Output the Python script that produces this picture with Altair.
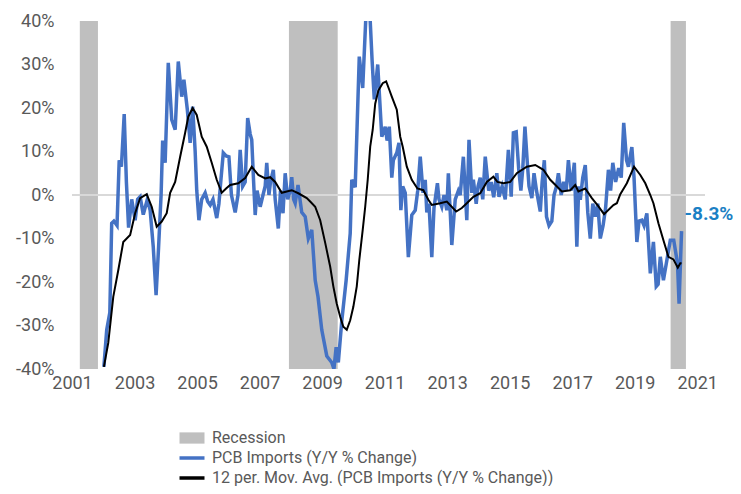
import altair as alt
import pandas as pd

# ---- data ----
blue_t = [2002.02, 2002.11, 2002.21, 2002.27, 2002.34, 2002.44, 2002.51, 2002.58, 2002.67, 2002.74,
          2002.81, 2002.91, 2003.02, 2003.10, 2003.18, 2003.28, 2003.41, 2003.50, 2003.60, 2003.69,
          2003.77, 2003.85, 2003.90, 2003.98, 2004.08, 2004.19, 2004.30, 2004.40, 2004.51, 2004.58,
          2004.69, 2004.78, 2004.86, 2004.94, 2004.99, 2005.06, 2005.15, 2005.26, 2005.34, 2005.42,
          2005.51, 2005.63, 2005.70, 2005.77, 2005.84, 2005.93, 2006.02, 2006.10, 2006.22, 2006.31,
          2006.38, 2006.46, 2006.54, 2006.62, 2006.70, 2006.75, 2006.81, 2006.86, 2006.92, 2007.02,
          2007.11, 2007.18, 2007.23, 2007.30, 2007.35, 2007.44, 2007.50, 2007.60, 2007.67, 2007.75,
          2007.82, 2007.90, 2007.98, 2008.03, 2008.09, 2008.14, 2008.23, 2008.35, 2008.46, 2008.56,
          2008.67, 2008.78, 2008.87, 2008.99, 2009.15, 2009.31, 2009.38, 2009.45, 2009.52, 2009.63,
          2009.77, 2009.90, 2009.95, 2010.06, 2010.19, 2010.30, 2010.42, 2010.52, 2010.60, 2010.67,
          2010.78, 2010.91, 2011.02, 2011.08, 2011.15, 2011.23, 2011.28, 2011.39, 2011.46, 2011.52,
          2011.58, 2011.66, 2011.76, 2011.87, 2011.98, 2012.06, 2012.14, 2012.23, 2012.30, 2012.35,
          2012.42, 2012.51, 2012.58, 2012.69, 2012.74, 2012.83, 2012.90, 2012.99, 2013.04, 2013.15,
          2013.26, 2013.36, 2013.42, 2013.52, 2013.63, 2013.70, 2013.79, 2013.84, 2013.93, 2013.99,
          2014.06, 2014.14, 2014.22, 2014.33, 2014.41, 2014.49, 2014.59, 2014.66, 2014.76, 2014.86,
          2014.96, 2015.05, 2015.12, 2015.21, 2015.29, 2015.36, 2015.42, 2015.49, 2015.56, 2015.62,
          2015.71, 2015.78, 2015.86, 2015.98, 2016.04, 2016.11, 2016.18, 2016.26, 2016.35, 2016.42,
          2016.50, 2016.56, 2016.65, 2016.73, 2016.81, 2016.88, 2016.97, 2017.07, 2017.15, 2017.21,
          2017.26, 2017.34, 2017.42, 2017.50, 2017.58, 2017.66, 2017.74, 2017.82, 2017.90, 2017.99,
          2018.07, 2018.16, 2018.23, 2018.30, 2018.39, 2018.49, 2018.57, 2018.65, 2018.74, 2018.80,
          2018.86, 2018.91, 2018.98, 2019.07, 2019.14, 2019.23, 2019.30, 2019.39, 2019.50, 2019.60,
          2019.69, 2019.75, 2019.82, 2019.92, 2020.03, 2020.14, 2020.25, 2020.37, 2020.42, 2020.50]
blue_v = [-39.5, -31, -27, -6.5, -6, -7, 8, 6.5, 18.6, 3,
          -7.5, -1, -5.8, -1, -0.4, -4.5, -1, -3.5, -12, -23,
          -12, 0, 12.5, 7.4, 30.4, 17.3, 15, 30.7, 22.6, 26.5,
          19.6, 12, 20.3, 10, 1.1, -5.8, -1, 0.5, -1.5, -2.3,
          -1, -5.3, -2, 4, 9.7, 9, 8.8, 0, -4, 0,
          10.4, 2, 3, 17.7, 14, 12.7, 3, -4.6, 1, -2.7,
          0, 2, 7.4, 0, 3, 5.8, -1, -7.7, 1, -4.2,
          5, -1, 1, 4.1, -1, -1.9, 2.3, -4, -5, -10,
          -8, -19.6, -23.4, -31, -37, -38.5, -40, -35, -38.5, -29,
          -19.6, -8.8, 3.5, 1.8, 31.8, 24.6, 44, 43, 31, 22,
          30, 13.4, 15.7, 12.5, 15.7, 4, 8, 9.7, 12, -3.5,
          2, 0.5, -14.3, -4.6, -3.5, 1, 8.8, 0.5, 3.5, -4,
          -2, -14.3, -3, 2.7, -1, -2.7, 0, -3.5, 5, -11.5,
          -1, 1, 0, 8.8, -5.8, 12.7, 0.5, 3.5, -2, 2,
          4, -1, 8.8, 1, 3, -0.5, 5, -0.4, 2, -1,
          10.4, -0.4, 14.3, 14.5, 6, 1, 6, 15.7, 8, 2,
          -0.7, 5, 1, -3.8, 3, 8, -5, -7, -6, 0,
          2, 5, 0, 3, 1, 8, 1, 7.4, -11.9, 2,
          -1.1, 4, 6.9, -4, -10, -2, -5, -2, -10, -7,
          -3, 5.8, 1, 7.4, 3, 6.2, 4, 16.6, 8, 6.5,
          9, 11, 4, -10.8, -6, -5.8, -7, -4.2, -18, -10.8,
          -21, -20.5, -14.2, -19.6, -15, -10.4, -10.4, -15.7, -25, -8.3]

ma_t = [2002.02, 2002.16, 2002.32, 2002.48, 2002.64, 2002.86, 2003.02, 2003.18, 2003.39, 2003.55,
        2003.71, 2003.87, 2004.03, 2004.14, 2004.30, 2004.46, 2004.62, 2004.72, 2004.86, 2004.99,
        2005.15, 2005.31, 2005.47, 2005.63, 2005.79, 2005.93, 2006.06, 2006.32, 2006.54, 2006.75,
        2006.96, 2007.18, 2007.34, 2007.50, 2007.71, 2007.87, 2008.03, 2008.24, 2008.51, 2008.62,
        2008.78, 2008.94, 2009.10, 2009.26, 2009.36, 2009.47, 2009.58, 2009.68, 2009.79, 2009.90,
        2010.00, 2010.11, 2010.19, 2010.30, 2010.38, 2010.46, 2010.54, 2010.62, 2010.70, 2010.80,
        2010.94, 2011.05, 2011.15, 2011.23, 2011.39, 2011.50, 2011.58, 2011.71, 2011.87, 2012.05,
        2012.24, 2012.40, 2012.51, 2012.78, 2012.99, 2013.29, 2013.47, 2013.63, 2013.84, 2014.06,
        2014.27, 2014.48, 2014.61, 2014.80, 2015.02, 2015.23, 2015.55, 2015.82, 2016.08, 2016.30,
        2016.67, 2016.94, 2017.10, 2017.20, 2017.42, 2017.63, 2017.83, 2018.02, 2018.32, 2018.43,
        2018.54, 2018.75, 2018.98, 2019.18, 2019.34, 2019.50, 2019.60, 2019.76, 2019.92, 2020.08,
        2020.24, 2020.38, 2020.46, 2020.50]
ma_v = [-39.5, -34, -23.4, -17.3, -10.8, -9.2, -4.2, -0.7, 0.2, -2.7,
        -7.3, -6.1, -4.2, 0.5, 3, 8.8, 14.3, 18, 20, 18.4,
        13.4, 11.1, 7.4, 3.5, 0.5, 1.5, 2.3, 2.7, 3.9, 6.5,
        4.6, 3.8, 4.1, 3, 0.5, 0.8, 1.1, 0.4, -0.7, -1.5,
        -2.7, -5.8, -11, -16.5, -21, -25, -28, -30.3, -31, -28.8,
        -25.7, -21, -15, -8, -2.7, 3.5, 11.1, 15, 21, 24,
        25.7, 26.1, 24.2, 22.6, 19.6, 13.4, 11.1, 6.5, 3.5, 1.5,
        1.1, -1.1, -2.3, -1.9, -1.5, -3.8, -3, -1.9, -0.4, 0.4,
        3, 4.2, 3, 2.7, 3, 5, 6.5, 6.9, 5.8, 3.5,
        0.8, 1.1, 2.3, 0.8, 1.5, -0.7, -2.5, -4.4, -2.3, -1.9,
        0.2, 2.7, 6.5, 4.6, 2.7, 0, -1.9, -6.5, -10.4, -14.2,
        -14.8, -16.7, -15.7, -15.7]

rec_start = [2001.25, 2007.94, 2020.15]
rec_end = [2001.83, 2009.50, 2020.64]

y_ticks = [-40, -30, -20, -10, 0, 10, 20, 30, 40]
x_ticks = [2001, 2003, 2005, 2007, 2009, 2011, 2013, 2015, 2017, 2019, 2021]

BLUE_NAME = "PCB Imports (Y/Y % Change)"
MA_NAME = "12 per. Mov. Avg. (PCB Imports (Y/Y % Change))"
REC_NAME = "Recession"

blue_df = pd.DataFrame({"t": blue_t, "v": blue_v, "s": BLUE_NAME})
ma_df = pd.DataFrame({"t": ma_t, "v": ma_v, "s": MA_NAME})
rec_df = pd.DataFrame({"start": rec_start, "end": rec_end,
                       "lo": y_ticks[0], "hi": y_ticks[-1], "k": REC_NAME})
last_df = pd.DataFrame({"t": [blue_t[-1]], "v": [blue_v[-1]],
                        "label": [f"{blue_v[-1]:.1f}%"]})

xs = alt.Scale(domain=[2001, 2021.25], nice=False, zero=False)
ys = alt.Scale(domain=[-40, 40], nice=False, zero=False)
x_axis = alt.Axis(values=x_ticks, format="d", labelPadding=5, title=None,
                  labelFlush=False, labelOverlap=False)
y_axis = alt.Axis(values=y_ticks, labelExpr="datum.value + '%'", labelPadding=18, title=None)

stroke_scale = alt.Scale(domain=[BLUE_NAME, MA_NAME], range=["#4472C4", "#000000"])
line_legend = alt.Legend(orient="none", legendX=112, legendY=429, title=None,
                         symbolType="M-2,0H2", symbolSize=156.25, symbolStrokeWidth=3.5,
                         labelFont="Roboto", labelFontSize=16, labelColor="#595959",
                         labelOffset=12, labelLimit=600, rowPadding=4, padding=0)
rec_legend = alt.Legend(orient="none", legendX=112, legendY=409, title=None,
                        symbolType="M-2,-0.9H2V0.9H-2Z", symbolSize=156.25,
                        symbolStrokeWidth=0, symbolOpacity=1,
                        labelFont="Roboto", labelFontSize=16, labelColor="#595959",
                        labelOffset=12, labelLimit=600, padding=0)

rec = alt.Chart(rec_df).mark_rect(opacity=1).encode(
    x=alt.X("start:Q", scale=xs, axis=x_axis),
    x2="end:Q",
    y=alt.Y("lo:Q", scale=ys, axis=y_axis),
    y2="hi:Q",
    fill=alt.Fill("k:N", scale=alt.Scale(domain=[REC_NAME], range=["#BFBFBF"]), legend=rec_legend),
)

zero = alt.Chart(rec_df).mark_rule(color="#D9D9D9", strokeWidth=1.5).encode(
    y=alt.datum(0, scale=ys)
)

blue = alt.Chart(blue_df).mark_line(strokeWidth=3.5, clip=True).encode(
    x=alt.X("t:Q", scale=xs, axis=x_axis),
    y=alt.Y("v:Q", scale=ys, axis=y_axis),
    stroke=alt.Stroke("s:N", scale=stroke_scale, legend=line_legend),
)

ma = alt.Chart(ma_df).mark_line(strokeWidth=2, clip=True).encode(
    x=alt.X("t:Q", scale=xs, axis=x_axis),
    y=alt.Y("v:Q", scale=ys, axis=y_axis),
    stroke=alt.Stroke("s:N", scale=stroke_scale, legend=line_legend),
)

label = alt.Chart(last_df).mark_text(align="left", baseline="middle", dx=3, dy=-17,
                                     font="Roboto", fontSize=19, fontWeight="bold",
                                     color="#1A80C4").encode(
    x=alt.X("t:Q", scale=xs, axis=x_axis),
    y=alt.Y("v:Q", scale=ys, axis=y_axis),
    text="label:N",
)

chart = alt.layer(rec, zero, blue, ma, label).properties(
    width=633, height=348,
    autosize=alt.AutoSizeParams(type="none"),
    padding={"left": 64, "top": 13, "right": 28, "bottom": 117},
).configure_view(stroke=None).configure_axis(
    labelFont="Roboto", labelFontSize=18, labelColor="#595959",
    domain=False, ticks=False, tickSize=0, grid=False,
)

chart.save("out.html", embed_options={"renderer": "svg", "actions": False})
